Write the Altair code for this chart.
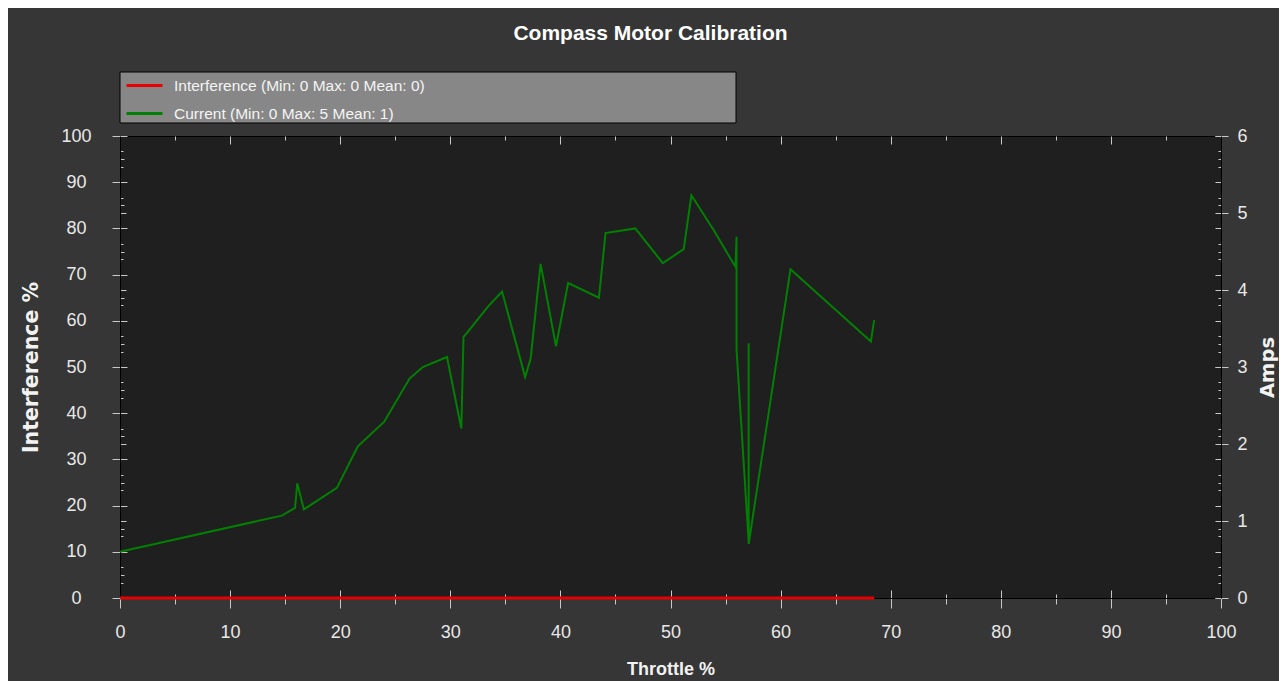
import altair as alt
import pandas as pd

# ---- data ----
throttle = [0, 14.7, 15.9, 16.1, 16.7, 19.7, 21.6, 24.0, 26.3, 27.5, 29.7, 31.0, 31.2, 31.5,
            33.4, 34.7, 36.8, 37.3, 38.2, 39.6, 40.7, 43.5, 44.1, 46.8, 49.3, 51.2, 51.9,
            54.0, 55.9, 56.0, 56.0, 57.1, 57.1, 57.1, 60.9, 68.2, 68.5]
current = [0.6, 1.07, 1.17, 1.49, 1.15, 1.43, 1.97, 2.29, 2.85, 3.0, 3.13, 2.2, 3.39, 3.44,
           3.78, 3.98, 2.87, 3.11, 4.34, 3.27, 4.09, 3.90, 4.74, 4.80, 4.35, 4.53, 5.23,
           4.76, 4.30, 4.69, 3.22, 0.73, 3.31, 0.70, 4.27, 3.33, 3.61]
interference = [0, 0, 0, 0, 0, 0, 0, 0, 0, 0, 0, 0, 0, 0, 0, 0, 0, 0, 0, 0, 0, 0, 0, 0,
                0, 0, 0, 0, 0, 0, 0, 0, 0, 0, 0, 0, 0]

series_names = ["Interference (Min: 0 Max: 0 Mean: 0)", "Current (Min: 0 Max: 5 Mean: 1)"]
series_colors = ["#e60000", "#008000"]

x_major = [0, 10, 20, 30, 40, 50, 60, 70, 80, 90, 100]
x_minor = [5, 15, 25, 35, 45, 55, 65, 75, 85, 95]
pct_major = [0, 10, 20, 30, 40, 50, 60, 70, 80, 90, 100]
pct_minor = [5, 15, 25, 35, 45, 55, 65, 75, 85, 95]
amp_major = [0, 1, 2, 3, 4, 5, 6]
amp_minor = [0.2, 0.4, 0.6, 0.8, 1.2, 1.4, 1.6, 1.8, 2.2, 2.4, 2.6, 2.8, 3.2, 3.4, 3.6, 3.8,
             4.2, 4.4, 4.6, 4.8, 5.2, 5.4, 5.6, 5.8]

# ---- tables ----
idx = list(range(len(throttle)))
df = pd.DataFrame({"idx": idx, "throttle": throttle, "interference": interference, "current": current})
df_int = pd.DataFrame({"idx": idx, "throttle": throttle, "value": interference,
                       "series": [series_names[0]] * len(idx)})
df_cur = pd.DataFrame({"idx": idx, "throttle": throttle, "value": current,
                       "series": [series_names[1]] * len(idx)})

NARROW = "Liberation Sans, Arial, sans-serif"
WIDEB = "DejaVu Sans, Verdana, sans-serif"
TICK = "#c8c8c8"
LABEL = "#e8e8e8"

W, H = 1101, 462

xscale = alt.Scale(domain=[0, 100], nice=False, zero=False)
pscale = alt.Scale(domain=[0, 100], nice=False, zero=False)
ascale = alt.Scale(domain=[0, 6], nice=False, zero=False)

color = alt.Color(
    "series:N",
    scale=alt.Scale(domain=series_names, range=series_colors),
    legend=alt.Legend(
        orient="none", legendX=5, legendY=-70, title=None,
        symbolType="stroke", symbolStrokeWidth=3, symbolSize=1296,
        labelFont=NARROW, labelFontSize=15.5, labelColor="#f4f4f4",
        labelOffset=10, rowPadding=-6, padding=0, labelLimit=600,
    ),
)


def tick_axis(orient, values, size, offset):
    return alt.Axis(orient=orient, values=values, tickSize=size, offset=offset,
                    labels=False, domain=False, grid=False, title=None,
                    tickColor=TICK, tickWidth=1)


x_main = alt.Axis(orient="bottom", values=x_major, tickSize=10, tickColor=TICK,
                  domainColor="black", domainWidth=1, grid=False, format="d",
                  labelFont=NARROW, labelFontSize=18, labelColor=LABEL,
                  labelPadding=24, labelBaseline="middle", labelFlush=False, labelOverlap=False,
                  title="Throttle %", titleFont=NARROW, titleFontSize=18, titleFontWeight="bold",
                  titleColor="#f2f2f2", titleY=71, titleBaseline="middle")

y_left = alt.Axis(orient="left", values=pct_major, tickSize=8, tickColor=TICK,
                  domainColor="black", domainWidth=1, grid=False, format="d",
                  labelFont=NARROW, labelFontSize=18, labelColor=LABEL,
                  labelAlign="center", labelPadding=36, labelFlush=False, labelOverlap=False,
                  title="Interference %", titleFont=WIDEB, titleFontSize=20.5, titleFontWeight="bold",
                  titleColor="#f2f2f2", titleAngle=270, titleX=-89, titleY=H / 2,
                  titleAlign="center", titleBaseline="middle")

y_right = alt.Axis(orient="right", values=amp_major, tickSize=7, tickColor=TICK,
                   domainColor="black", domainWidth=1, grid=False, format="d",
                   labelFont=NARROW, labelFontSize=18, labelColor=LABEL,
                   labelPadding=9, labelFlush=False, labelOverlap=False,
                   title="Amps", titleFont=WIDEB, titleFontSize=19.5, titleFontWeight="bold",
                   titleColor="#f2f2f2", titleAngle=270, titleX=46, titleY=H / 2,
                   titleAlign="center", titleBaseline="middle")


def deco(yfield, yscale, yaxis, xaxis=None):
    return alt.Chart(df).mark_line(strokeOpacity=0).encode(
        x=alt.X("throttle:Q", scale=xscale, axis=xaxis),
        y=alt.Y(f"{yfield}:Q", scale=yscale, axis=yaxis),
    )


legend_box = alt.Chart(alt.Data(values=[{}])).mark_rect(
    fill="#878787", stroke="black", strokeWidth=1
).encode(x=alt.value(0), x2=alt.value(616), y=alt.value(-64), y2=alt.value(-13))

decos = [
    # left side: inner major, inner minor, opposite amps ticks
    deco("interference", pscale, tick_axis("left", pct_major, 7, -7), tick_axis("bottom", x_major, 8, -8)),
    deco("interference", pscale, tick_axis("left", pct_minor, 4, -4), tick_axis("bottom", x_minor, 6, 0)),
    deco("current", ascale, tick_axis("left", amp_major, 6, -6), tick_axis("bottom", x_minor, 4, -4)),
    deco("current", ascale, tick_axis("left", amp_minor, 3, -3), tick_axis("top", x_major[1:-1], 8, -8)),
    # right side
    deco("current", ascale, tick_axis("right", amp_major, 6, -6), tick_axis("top", x_minor, 4, -4)),
    deco("current", ascale, tick_axis("right", amp_minor, 3, -3)),
    deco("interference", pscale, tick_axis("right", pct_major, 6, -6)),
    deco("interference", pscale, tick_axis("right", pct_minor, 3, -3)),
]

interf_line = alt.Chart(df_int).mark_line(strokeWidth=3).encode(
    x=alt.X("throttle:Q", scale=xscale, axis=x_main),
    y=alt.Y("value:Q", scale=pscale, axis=y_left),
    order="idx:Q",
    color=color,
)

current_line = alt.Chart(df_cur).mark_line(strokeWidth=2).encode(
    x=alt.X("throttle:Q", scale=xscale, axis=None),
    y=alt.Y("value:Q", scale=ascale, axis=y_right),
    order="idx:Q",
    color=color,
)

chart = alt.layer(legend_box, *decos, current_line, interf_line).resolve_scale(
    y="independent"
).resolve_axis(
    x="independent", y="independent"
).properties(
    width=W, height=H,
    autosize=alt.AutoSizeParams(type="none"),
    padding={"left": 112, "top": 128, "right": 58, "bottom": 83},
    background="#363636",
    title=alt.TitleParams(
        "Compass Motor Calibration", font=NARROW, fontSize=21, fontWeight="bold",
        color="#ffffff", anchor="middle", dx=-20, offset=22,
    ),
).configure_view(fill="#1f1f1f", stroke="black", strokeWidth=1)

chart.save("out.html", embed_options={"renderer": "svg", "actions": False})
